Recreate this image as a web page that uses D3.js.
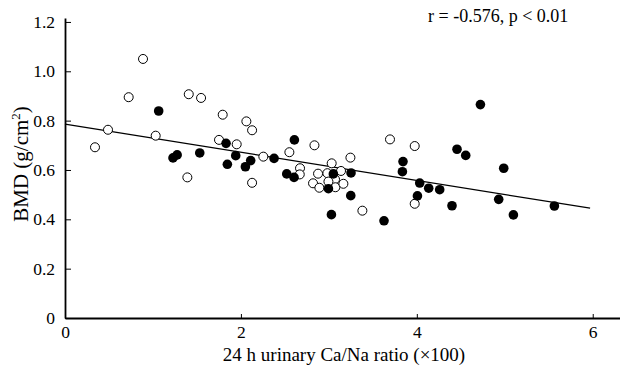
<!DOCTYPE html>
<html>
<head>
<meta charset="utf-8">
<script src="https://cdn.jsdelivr.net/npm/d3@7"></script>
<style>
  body { margin: 0; background: #fff; }
  svg text { font-family: "Liberation Serif", "Times New Roman", serif; fill: #000; }
</style>
</head>
<body>
<div id="chart"></div>
<script>
// ### Data ###
// filled circles
var filledX = [1.065, 1.275, 1.228, 1.532, 1.831, 1.941, 1.846, 2.051, 2.111, 2.608, 2.377, 2.521, 2.604,
               3.051, 2.995, 3.252, 3.249, 3.029, 4.723, 4.457, 4.556, 3.843, 3.836, 4.988, 4.033, 4.135,
               4.260, 4.007, 4.400, 4.931, 5.098, 5.564, 3.627];
var filledY = [0.839, 0.661, 0.649, 0.669, 0.708, 0.658, 0.623, 0.613, 0.638, 0.722, 0.647, 0.584, 0.570,
               0.584, 0.524, 0.588, 0.496, 0.419, 0.865, 0.684, 0.659, 0.634, 0.593, 0.607, 0.547, 0.526,
               0.520, 0.495, 0.455, 0.481, 0.418, 0.454, 0.394];
// open circles
var openX = [0.887, 0.724, 1.407, 1.547, 1.793, 0.489, 1.031, 0.341, 1.751, 1.952, 1.391, 2.062, 2.127,
             2.836, 2.551, 2.255, 3.245, 3.032, 2.672, 2.669, 2.877, 2.983, 3.138, 3.070, 2.995, 2.820,
             2.892, 3.074, 3.165, 2.127, 3.381, 3.695, 3.976, 3.976];
var openY = [1.050, 0.895, 0.907, 0.892, 0.824, 0.763, 0.739, 0.692, 0.722, 0.704, 0.570, 0.797, 0.761,
             0.700, 0.672, 0.654, 0.650, 0.627, 0.607, 0.582, 0.585, 0.587, 0.596, 0.562, 0.553, 0.546,
             0.528, 0.530, 0.544, 0.548, 0.435, 0.724, 0.697, 0.463];
// regression line
var fitIntercept = 0.786;
var fitSlope = -0.0571;
var fitRange = [0, 5.97];

var xTicks = [0, 2, 4, 6];
var yTicks = [0, 0.2, 0.4, 0.6, 0.8, 1.0, 1.2];
var statText = "r = -0.576, p < 0.01";
var xTitle = "24 h urinary Ca/Na ratio (\u00d7100)";

// ### Chart ###
var width = 620, height = 369;
var margin = {top: 18, right: 0, bottom: 51, left: 65};

var svg = d3.select("#chart").append("svg")
    .attr("width", width)
    .attr("height", height);

var x = d3.scaleLinear()
    .domain([0, 6.31])
    .range([margin.left, width - margin.right]);
var y = d3.scaleLinear()
    .domain([0, 1.216])
    .range([height - margin.bottom, margin.top]);

// axes, ticks pointing inward
var xAxis = svg.append("g")
    .attr("transform", "translate(0," + y(0) + ")")
    .call(d3.axisBottom(x).tickValues(xTicks).tickSizeInner(-4).tickSizeOuter(0).tickPadding(8)
        .tickFormat(d3.format("d")));
var yAxis = svg.append("g")
    .attr("transform", "translate(" + x(0) + ",0)")
    .call(d3.axisLeft(y).tickValues(yTicks).tickSizeInner(-6).tickSizeOuter(0).tickPadding(10)
        .tickFormat(function(d) { return d === 0 ? "0" : d.toFixed(1); }));

[xAxis, yAxis].forEach(function(g) {
  g.attr("font-family", null);
  g.select(".domain").attr("stroke", "#000").attr("stroke-width", 1.8);
  g.selectAll(".tick line").attr("stroke", "#000").attr("stroke-width", 1);
  g.selectAll(".tick text").style("font-family", "Liberation Serif").attr("font-size", 17.5);
});

// regression line
svg.append("line")
    .attr("x1", x(fitRange[0])).attr("y1", y(fitIntercept + fitSlope * fitRange[0]))
    .attr("x2", x(fitRange[1])).attr("y2", y(fitIntercept + fitSlope * fitRange[1]))
    .attr("stroke", "#000").attr("stroke-width", 1.3);

// points
svg.append("g").selectAll("circle")
    .data(openX.map(function(d, i) { return [d, openY[i]]; }))
  .enter().append("circle")
    .attr("cx", function(d) { return x(d[0]); })
    .attr("cy", function(d) { return y(d[1]); })
    .attr("r", 4.5)
    .attr("fill", "#fff")
    .attr("stroke", "#000")
    .attr("stroke-width", 1);

svg.append("g").selectAll("circle")
    .data(filledX.map(function(d, i) { return [d, filledY[i]]; }))
  .enter().append("circle")
    .attr("cx", function(d) { return x(d[0]); })
    .attr("cy", function(d) { return y(d[1]); })
    .attr("r", 4.8)
    .attr("fill", "#000");

// texts
svg.append("text")
    .attr("x", 428).attr("y", 22)
    .attr("font-size", 18)
    .text(statText);

svg.append("text")
    .attr("x", 344).attr("y", 361)
    .attr("text-anchor", "middle")
    .attr("font-size", 19)
    .text(xTitle);

var yLabel = svg.append("text")
    .attr("transform", "translate(28,164) rotate(-90)")
    .attr("text-anchor", "middle")
    .attr("font-size", 21);
yLabel.append("tspan").text("BMD (g/cm");
yLabel.append("tspan").attr("font-size", 13).attr("dy", -8).text("2");
yLabel.append("tspan").attr("dy", 8).text(")");
</script>
</body>
</html>
